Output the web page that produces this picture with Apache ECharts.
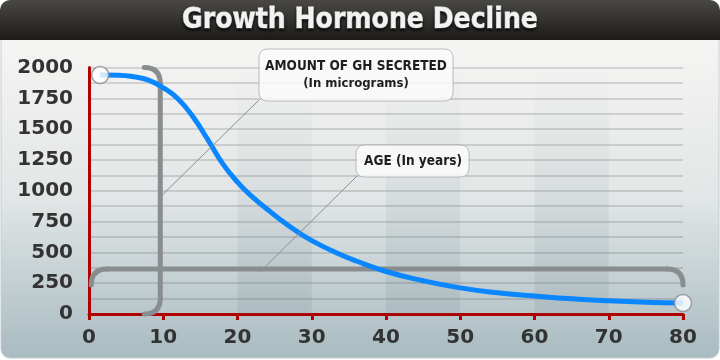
<!DOCTYPE html>
<html><head><meta charset="utf-8">
<script src="https://cdn.jsdelivr.net/npm/echarts@6/dist/echarts.min.js"></script>
<style>html,body{margin:0;padding:0;background:#fff}#c{width:720px;height:360px}</style>
</head><body><div id="c"></div>
<script>
// ---- data ----
const ages = [1.5, 4, 6, 8, 10, 12, 14, 16, 18, 20, 22, 24, 26, 28, 30, 33, 36, 40, 45, 50, 55, 60, 65, 70, 75, 80];
const ghValues = [1940, 1938, 1925, 1898, 1835, 1745, 1600, 1415, 1220, 1070, 950, 850, 755, 670, 595, 505, 430, 345, 270, 212, 172, 146, 123, 107, 96, 90];
const xTicks = [0, 10, 20, 30, 40, 50, 60, 70, 80];
const yTicks = [0, 250, 500, 750, 1000, 1250, 1500, 1750, 2000];
const bands = [[20, 30], [40, 50], [60, 70]];
const titleText = 'Growth Hormone Decline';
const noteGH = ['AMOUNT OF GH SECRETED', '(In micrograms)'];
const noteAge = 'AGE (In years)';
const bracketAgeX = 9.6;     // vertical bracket position (years)
const bracketValY = 365;     // horizontal bracket position (value)

const RED = '#b00000';
const chart = echarts.init(document.getElementById('c'), null, {renderer: 'canvas'});
const labelFont = {fontFamily: '"DejaVu Sans"', fontWeight: 'bold', fontSize: 20, color: '#333333'};

const option = {
  animation: false,
  backgroundColor: '#ffffff',
  grid: {left: 89, right: 37, top: 67.5, bottom: 46, containLabel: false},
  xAxis: {
    type: 'value', min: xTicks[0], max: xTicks[xTicks.length - 1], interval: 10,
    axisLine: {lineStyle: {color: RED, width: 3}},
    axisTick: {show: true, length: 6, lineStyle: {color: RED, width: 3}},
    axisLabel: Object.assign({margin: 14}, labelFont),
    splitLine: {show: false}
  },
  yAxis: {
    type: 'value', min: 0, max: yTicks[yTicks.length - 1], interval: 125,
    axisLine: {show: true, lineStyle: {color: RED, width: 3}},
    axisTick: {show: false},
    axisLabel: Object.assign({margin: 16, formatter: v => (yTicks.indexOf(v) >= 0 ? String(v) : '')}, labelFont),
    splitLine: {show: true, lineStyle: {color: 'rgba(80,85,90,0.2)', width: 2}}
  },
  series: [
    {
      type: 'line', data: ages.map((a, i) => [a, ghValues[i]]),
      smooth: 0.5, symbol: 'none', z: 3,
      lineStyle: {color: '#0a86ff', width: 5},
      markArea: {
        silent: true,
        itemStyle: {color: new echarts.graphic.LinearGradient(0, 0, 0, 1, [
          {offset: 0, color: 'rgba(100,120,130,0)'}, {offset: 0.4, color: 'rgba(100,120,130,0.07)'},
          {offset: 1, color: 'rgba(100,120,130,0.14)'}])},
        data: bands.map(b => [{xAxis: b[0]}, {xAxis: b[1]}])
      }
    },
    {
      type: 'scatter', z: 4,
      data: [[ages[0], ghValues[0]], [ages[ages.length - 1], ghValues[ghValues.length - 1]]],
      symbol: 'circle', symbolSize: 17,
      itemStyle: {color: '#ffffff', borderColor: '#8a8f92', borderWidth: 1.5}
    }
  ]
};
chart.setOption(option);

const P = (x, y) => chart.convertToPixel({gridIndex: 0}, [x, y]);
const top2k = P(bracketAgeX, yTicks[yTicks.length - 1]);
const bot0 = P(bracketAgeX, 0);
const hl = P(0.3, bracketValY);
const hr = P(xTicks[xTicks.length - 1], bracketValY);
const R = 16;
const bs = () => ({stroke: '#8a8d8f', lineWidth: 5, fill: null, lineCap: 'round'});
const seg = (x1, y1, x2, y2) => ({type: 'line', z: 1, shape: {x1, y1, x2, y2}, style: bs()});
const crv = (x1, y1, cx, cy, x2, y2) => ({type: 'bezierCurve', z: 1, shape: {x1, y1, cpx1: cx, cpy1: cy, x2, y2}, style: bs()});

const graphic = [
  // panel body
  {type: 'rect', z: -10, shape: {x: 1, y: 36, width: 718, height: 322, r: [0, 0, 9, 9]},
   style: {fill: new echarts.graphic.LinearGradient(0, 0, 0, 1, [
     {offset: 0, color: '#f6f5f3'}, {offset: 0.5, color: '#e2e6e6'}, {offset: 1, color: '#a8bbc0'}]),
     stroke: '#c3ccd0', lineWidth: 1}},
  // title bar
  {type: 'rect', z: -9, shape: {x: 0, y: 0, width: 720, height: 40, r: [10, 10, 0, 0]},
   style: {fill: new echarts.graphic.LinearGradient(0, 0, 0, 1, [
     {offset: 0, color: '#4a4844'}, {offset: 1, color: '#1c1b19'}])}},
  {type: 'text', z: -8, x: 360, y: 21,
   style: {text: titleText, align: 'center', verticalAlign: 'middle',
     font: 'bold 28px "DejaVu Sans Condensed"', fill: '#f2f2f2', stroke: '#f2f2f2', lineWidth: 0.8,
     textShadowColor: 'rgba(0,0,0,0.8)', textShadowBlur: 3, textShadowOffsetY: 2}},
  // vertical bracket
  crv(top2k[0] - R, top2k[1], top2k[0], top2k[1], top2k[0], top2k[1] + R),
  seg(top2k[0], top2k[1] + R, bot0[0], bot0[1] - R),
  crv(bot0[0], bot0[1] - R, bot0[0], bot0[1], bot0[0] - R, bot0[1]),
  // horizontal bracket
  crv(hl[0], hl[1] + R, hl[0], hl[1], hl[0] + R, hl[1]),
  seg(hl[0] + R, hl[1], hr[0] - R, hr[1]),
  crv(hr[0] - R, hr[1], hr[0], hr[1], hr[0], hr[1] + R),
  // leader lines
  {type: 'line', z: 20, shape: {x1: 259, y1: 100, x2: top2k[0], y2: 197}, style: {stroke: '#8c8f90', lineWidth: 1}},
  {type: 'line', z: 20, shape: {x1: 357, y1: 176, x2: 260, y2: hl[1] + 3}, style: {stroke: '#8c8f90', lineWidth: 1}},
  // note boxes
  {type: 'rect', z: 21, shape: {x: 259, y: 49, width: 194, height: 52, r: 8},
   style: {fill: 'rgba(250,250,250,0.85)', stroke: 'rgba(160,165,168,0.7)', lineWidth: 1}},
  {type: 'text', z: 22, x: 356, y: 66, style: {text: noteGH[0], align: 'center', verticalAlign: 'middle',
    font: 'bold 13.5px "DejaVu Sans Condensed"', fill: '#1e1e1e'}},
  {type: 'text', z: 22, x: 356, y: 84, style: {text: noteGH[1], align: 'center', verticalAlign: 'middle',
    font: 'bold 13px "DejaVu Sans Condensed"', fill: '#1e1e1e'}},
  {type: 'rect', z: 21, shape: {x: 356, y: 145, width: 113, height: 32, r: 8},
   style: {fill: 'rgba(250,250,250,0.85)', stroke: 'rgba(160,165,168,0.7)', lineWidth: 1}},
  {type: 'text', z: 22, x: 413, y: 161, style: {text: noteAge, align: 'center', verticalAlign: 'middle',
    font: 'bold 13.5px "DejaVu Sans Condensed"', fill: '#1e1e1e'}}
];
chart.setOption({graphic: graphic});
</script></body></html>
